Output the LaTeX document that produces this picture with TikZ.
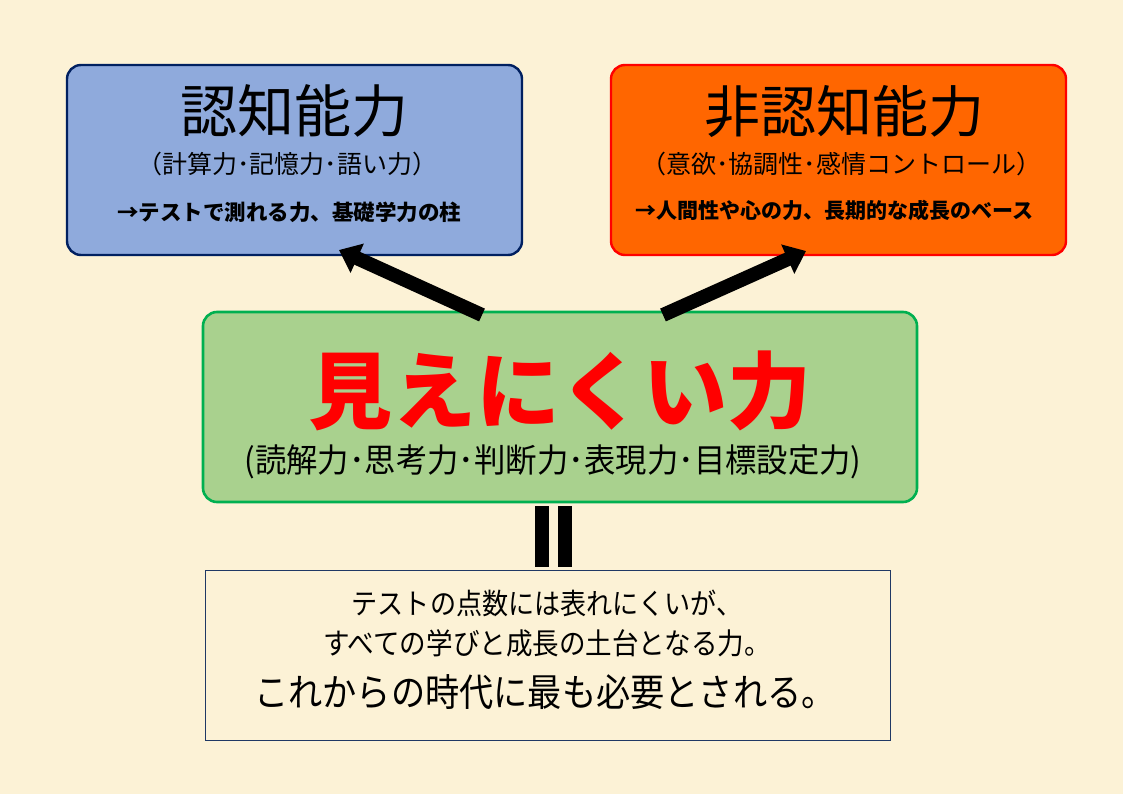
\documentclass[tikz,border=0pt]{standalone}
\usepackage{fontspec}
\newfontfamily\jp{Noto Sans CJK JP}
\newfontfamily\jpc[FakeStretch=0.9]{Noto Sans CJK JP}
\newfontfamily\jpm[FakeStretch=0.95]{Noto Sans CJK JP}
\usetikzlibrary{arrows.meta}
\definecolor{bgc}{HTML}{FCF2D6}
\definecolor{bluefill}{HTML}{8FAADC}
\definecolor{blueline}{HTML}{002060}
\definecolor{orangefill}{HTML}{FF6600}
\definecolor{redline}{HTML}{FF0000}
\definecolor{greenfill}{HTML}{A9D18E}
\definecolor{greenline}{HTML}{00B050}
\definecolor{navyline}{HTML}{1F3864}
\tikzset{
  panel/.style={rectangle, rounded corners=14pt, line width=2.4pt, inner sep=0pt, outer sep=0pt},
  txt/.style={inner sep=0pt, outer sep=0pt, anchor=center, text=black},
  bigarrow/.style={line width=14pt, black, -{Triangle[width=31pt,length=20pt]}},
  eqbar/.style={fill=black, draw=none},
}
\begin{document}
\begin{tikzpicture}[x=1pt,y=-1pt]
\fill[bgc] (0,0) rectangle (1123,794);
\useasboundingbox (0,0) rectangle (1123,794);

% panels
\node[panel, draw=blueline, fill=bluefill, minimum width=455pt, minimum height=190pt] (cog) at (294.5,160) {};
\node[panel, draw=redline, fill=orangefill, minimum width=455pt, minimum height=190pt] (noncog) at (838.5,160) {};
\node[panel, draw=greenline, fill=greenfill, minimum width=714pt, minimum height=190pt, line width=2.6pt] (hidden) at (560,407) {};
\node[rectangle, draw=navyline, line width=1pt, minimum width=685pt, minimum height=170pt, inner sep=0pt] (note) at (547.5,655) {};

% texts: cognitive
\node[txt, font=\jp\fontsize{57}{57}\selectfont] (cogT) at (294,111) {認知能力};
\node[txt, font=\jp\fontsize{25}{25}\selectfont] (cogS) at (287,164) {（計算力･記憶力･語い力）};
\node[txt, font=\jp\bfseries\fontsize{21.5}{21.5}\selectfont] (cogN) at (289,212) {→テストで測れる力、基礎学力の柱};

% texts: non-cognitive
\node[txt, font=\jp\fontsize{56}{56}\selectfont] (ncT) at (844,112) {非認知能力};
\node[txt, font=\jp\fontsize{25}{25}\selectfont] (ncS) at (841,164) {（意欲･協調性･感情コントロール）};
\node[txt, font=\jp\bfseries\fontsize{21}{21}\selectfont] (ncN) at (834,210) {→人間性や心の力、長期的な成長のベース};

% texts: hidden power
\node[txt, text=red, font=\jp\bfseries\fontsize{84}{84}\selectfont] (hT) at (560,391) {見えにくい力};
\node[txt, font=\jpm\fontsize{33}{33}\selectfont] (hS) at (553,462) {(読解力･思考力･判断力･表現力･目標設定力)};

% texts: note
\node[txt, font=\jpc\fontsize{29}{29}\selectfont] (n1) at (547,603) {テストの点数には表れにくいが、};
\node[txt, font=\jpc\fontsize{29.5}{29.5}\selectfont] (n2) at (547,643) {すべての学びと成長の土台となる力。};
\node[txt, font=\jpc\fontsize{38}{38}\selectfont] (n3) at (545,692) {これからの時代に最も必要とされる。};

% arrows
\coordinate (aLtail) at (482,315);
\coordinate (aLtip) at (339,250);
\coordinate (aRtail) at (663,315);
\coordinate (aRtip) at (806,251);
\draw[bigarrow] (aLtail) -- (aLtip);
\draw[bigarrow] (aRtail) -- (aRtip);

% equals sign
\fill[eqbar] (535,506) rectangle (549,567);
\fill[eqbar] (558,506) rectangle (572,567);
\end{tikzpicture}
\end{document}
